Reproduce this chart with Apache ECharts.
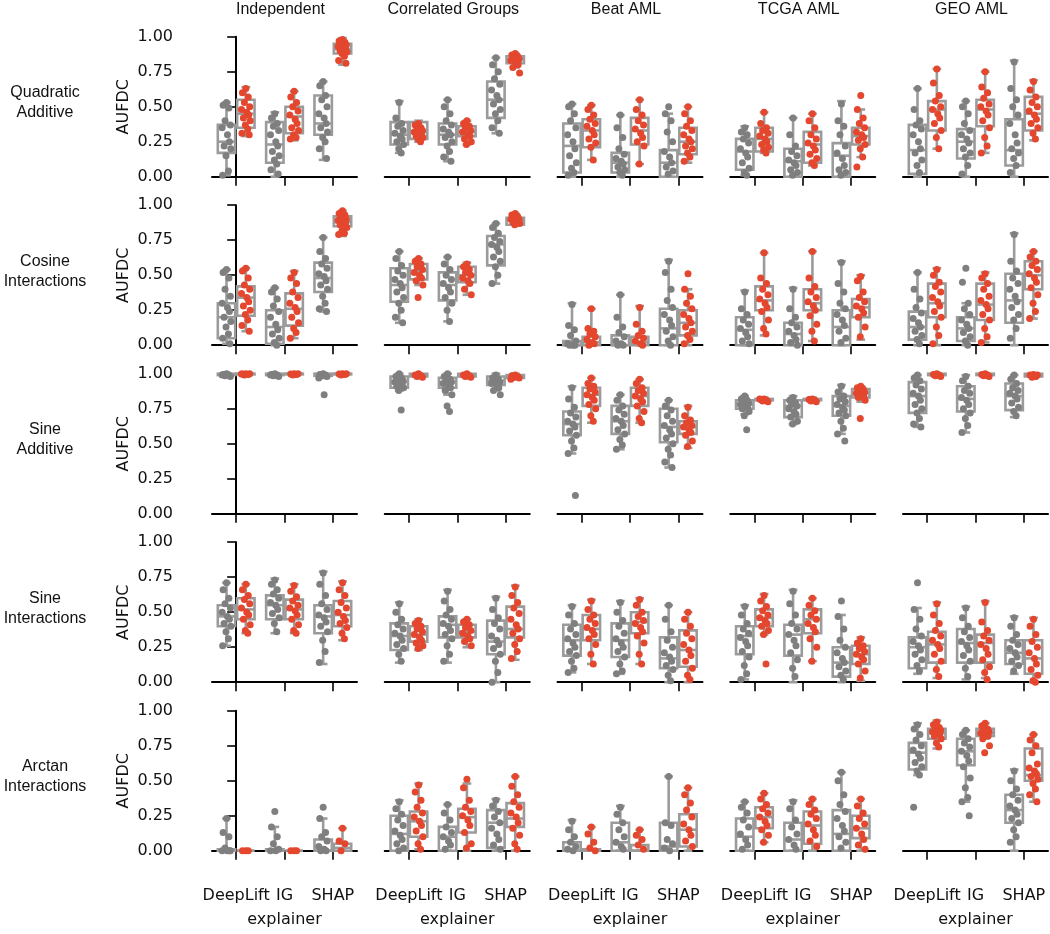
<!DOCTYPE html>
<html><head><meta charset="utf-8">
<script src="https://cdn.jsdelivr.net/npm/echarts@6/dist/echarts.min.js"></script>
<style>html,body{margin:0;padding:0;background:#fff}#chart{width:1050px;height:934px}</style>
</head><body><div id="chart"></div>
<script>
const columns = ['Independent', 'Correlated Groups', 'Beat AML', 'TCGA AML', 'GEO AML'];
const rowLabels = ['Quadratic\nAdditive', 'Cosine\nInteractions', 'Sine\nAdditive', 'Sine\nInteractions', 'Arctan\nInteractions'];
const explainers = ['DeepLift', 'IG', 'SHAP'];
const yMin = 0, yMax = 1, yStep = 0.25;

// Box stats per column; groups: DeepLift grey, DeepLift red, IG grey, IG red, SHAP grey, SHAP red
// each: [low whisker, Q1, median, Q3, high whisker]
const quadraticBoxes = [
  [[0.01,0.17,0.25,0.37,0.53],[0.29,0.35,0.45,0.55,0.64],[0.0,0.10,0.23,0.39,0.46],[0.26,0.31,0.43,0.50,0.61],[0.12,0.30,0.38,0.58,0.68],[0.80,0.88,0.91,0.95,0.99]],
  [[0.17,0.23,0.30,0.39,0.54],[0.25,0.27,0.32,0.39,0.40],[0.11,0.23,0.30,0.38,0.55],[0.23,0.29,0.32,0.36,0.40],[0.31,0.42,0.55,0.68,0.85],[0.78,0.81,0.84,0.86,0.88]],
  [[0.0,0.03,0.22,0.38,0.52],[0.12,0.21,0.33,0.41,0.51],[0.0,0.03,0.10,0.17,0.44],[0.09,0.23,0.33,0.42,0.55],[0.0,0.0,0.10,0.19,0.45],[0.10,0.16,0.25,0.35,0.50]],
  [[0.01,0.05,0.18,0.27,0.36],[0.17,0.18,0.27,0.35,0.46],[0.0,0.0,0.11,0.20,0.42],[0.08,0.10,0.23,0.32,0.45],[0.0,0.0,0.15,0.24,0.54],[0.14,0.23,0.29,0.35,0.48]],
  [[0.0,0.02,0.19,0.37,0.63],[0.20,0.33,0.48,0.54,0.77],[0.0,0.13,0.25,0.34,0.54],[0.17,0.36,0.48,0.55,0.75],[0.0,0.08,0.19,0.41,0.83],[0.26,0.33,0.45,0.57,0.69]]
];
const quadraticPoints = [
  [[0.53,0.51,0.49,0.40,0.37,0.35,0.30,0.25,0.22,0.20,0.15,0.04,0.01],[0.63,0.60,0.57,0.53,0.50,0.48,0.46,0.44,0.42,0.40,0.37,0.34,0.31,0.30],[0.45,0.42,0.38,0.36,0.33,0.30,0.25,0.22,0.18,0.15,0.12,0.09,0.05,0.02],[0.61,0.57,0.53,0.50,0.47,0.44,0.41,0.38,0.35,0.33,0.30,0.28,0.27],[0.68,0.65,0.58,0.55,0.50,0.45,0.42,0.38,0.35,0.32,0.28,0.25,0.20,0.13],[0.98,0.97,0.96,0.95,0.94,0.93,0.92,0.91,0.90,0.89,0.88,0.86,0.83,0.81]],
  [[0.53,0.42,0.38,0.36,0.33,0.31,0.29,0.27,0.25,0.23,0.20,0.17],[0.38,0.37,0.35,0.34,0.33,0.32,0.31,0.30,0.29,0.28,0.27,0.25],[0.55,0.50,0.45,0.40,0.37,0.34,0.32,0.30,0.28,0.25,0.22,0.18,0.14,0.11],[0.40,0.38,0.36,0.35,0.33,0.32,0.30,0.29,0.27,0.25,0.23],[0.85,0.80,0.75,0.70,0.66,0.62,0.58,0.55,0.52,0.48,0.45,0.40,0.35,0.31],[0.88,0.87,0.86,0.85,0.84,0.83,0.82,0.80,0.78,0.74]],
  [[0.52,0.50,0.45,0.40,0.35,0.30,0.25,0.20,0.15,0.10,0.06,0.03,0.01],[0.51,0.48,0.44,0.41,0.38,0.36,0.33,0.30,0.27,0.24,0.21,0.12],[0.44,0.35,0.28,0.20,0.16,0.13,0.11,0.09,0.07,0.05,0.03,0.01],[0.55,0.48,0.44,0.40,0.37,0.34,0.31,0.28,0.25,0.22,0.09],[0.50,0.45,0.40,0.32,0.25,0.18,0.14,0.10,0.07,0.04,0.02],[0.50,0.45,0.40,0.36,0.33,0.30,0.27,0.25,0.22,0.20,0.17,0.14,0.11]],
  [[0.35,0.32,0.30,0.27,0.24,0.20,0.17,0.14,0.10,0.06,0.03,0.01],[0.46,0.38,0.35,0.33,0.31,0.29,0.27,0.25,0.23,0.21,0.19,0.17],[0.42,0.30,0.22,0.18,0.15,0.12,0.10,0.08,0.05,0.03,0.01],[0.45,0.40,0.35,0.30,0.27,0.24,0.22,0.19,0.16,0.13,0.10,0.08],[0.52,0.40,0.36,0.30,0.22,0.17,0.13,0.08,0.05,0.03,0.01],[0.58,0.48,0.42,0.38,0.35,0.32,0.30,0.28,0.26,0.23,0.20,0.14,0.07]],
  [[0.63,0.48,0.40,0.37,0.34,0.30,0.25,0.20,0.17,0.12,0.08,0.03],[0.77,0.67,0.58,0.54,0.50,0.48,0.45,0.42,0.38,0.33,0.28,0.20],[0.54,0.50,0.45,0.38,0.33,0.30,0.27,0.24,0.20,0.17,0.14,0.08,0.02],[0.75,0.64,0.60,0.56,0.52,0.50,0.47,0.44,0.40,0.35,0.28,0.22,0.17],[0.82,0.63,0.55,0.50,0.44,0.38,0.30,0.24,0.20,0.17,0.13,0.08,0.03],[0.68,0.62,0.57,0.53,0.50,0.47,0.44,0.41,0.38,0.35,0.31,0.27]]
];

const cosineBoxes = [
  [[0.01,0.05,0.20,0.30,0.54],[0.10,0.21,0.34,0.42,0.55],[0.0,0.01,0.13,0.25,0.41],[0.05,0.14,0.26,0.37,0.53],[0.24,0.38,0.48,0.59,0.77],[0.78,0.85,0.88,0.92,0.96]],
  [[0.16,0.31,0.43,0.55,0.67],[0.43,0.47,0.53,0.58,0.62],[0.17,0.32,0.43,0.52,0.63],[0.36,0.45,0.50,0.56,0.59],[0.44,0.57,0.72,0.78,0.87],[0.86,0.86,0.89,0.91,0.94]],
  [[0.0,0.0,0.0,0.03,0.30],[0.0,0.0,0.02,0.06,0.26],[0.0,0.0,0.0,0.07,0.36],[0.0,0.0,0.02,0.06,0.28],[0.0,0.0,0.12,0.26,0.61],[0.0,0.07,0.16,0.25,0.40]],
  [[0.0,0.0,0.11,0.20,0.39],[0.07,0.25,0.32,0.42,0.66],[0.0,0.0,0.08,0.16,0.41],[0.03,0.25,0.30,0.40,0.67],[0.0,0.0,0.13,0.25,0.60],[0.04,0.20,0.27,0.33,0.50]],
  [[0.0,0.04,0.13,0.24,0.52],[0.0,0.20,0.30,0.44,0.55],[0.0,0.03,0.12,0.20,0.30],[0.02,0.18,0.29,0.44,0.52],[0.0,0.16,0.32,0.51,0.80],[0.19,0.40,0.50,0.60,0.67]]
];
const cosinePoints = [
  [[0.54,0.52,0.48,0.40,0.35,0.30,0.27,0.24,0.20,0.17,0.13,0.08,0.05,0.01],[0.55,0.53,0.48,0.43,0.40,0.37,0.34,0.31,0.28,0.25,0.22,0.18,0.14,0.10],[0.41,0.38,0.33,0.28,0.24,0.20,0.15,0.11,0.08,0.05,0.02,0.0],[0.52,0.48,0.44,0.38,0.34,0.30,0.27,0.24,0.20,0.16,0.12,0.09,0.05],[0.77,0.67,0.62,0.58,0.55,0.51,0.49,0.46,0.43,0.40,0.35,0.30,0.26,0.24],[0.96,0.94,0.93,0.91,0.90,0.89,0.88,0.87,0.86,0.84,0.82,0.80,0.79]],
  [[0.67,0.62,0.57,0.53,0.50,0.47,0.44,0.41,0.38,0.34,0.30,0.25,0.20,0.16],[0.62,0.60,0.58,0.56,0.54,0.52,0.50,0.48,0.46,0.43,0.34],[0.63,0.58,0.54,0.50,0.47,0.44,0.41,0.38,0.34,0.30,0.25,0.17],[0.58,0.56,0.54,0.52,0.50,0.48,0.46,0.44,0.40,0.36],[0.87,0.84,0.80,0.77,0.74,0.72,0.70,0.67,0.63,0.60,0.56,0.50,0.44],[0.94,0.93,0.92,0.91,0.90,0.90,0.89,0.89,0.88,0.87,0.86]],
  [[0.29,0.14,0.11,0.07,0.03,0.01,0.0,0.0,0.0],[0.26,0.12,0.10,0.08,0.06,0.04,0.02,0.01,0.0],[0.36,0.20,0.13,0.09,0.06,0.03,0.01,0.0,0.0],[0.27,0.15,0.10,0.07,0.05,0.03,0.01,0.0],[0.60,0.52,0.40,0.32,0.27,0.22,0.18,0.14,0.10,0.06,0.03,0.0],[0.51,0.40,0.35,0.30,0.26,0.22,0.19,0.16,0.13,0.10,0.07,0.04,0.01]],
  [[0.38,0.26,0.22,0.18,0.15,0.12,0.09,0.06,0.03,0.01],[0.66,0.48,0.44,0.40,0.36,0.33,0.30,0.27,0.24,0.18,0.12,0.08],[0.40,0.26,0.20,0.16,0.13,0.10,0.07,0.04,0.02,0.0],[0.67,0.48,0.42,0.38,0.34,0.31,0.28,0.25,0.21,0.15,0.10,0.03],[0.59,0.44,0.38,0.30,0.26,0.22,0.18,0.14,0.10,0.05,0.02],[0.49,0.46,0.38,0.34,0.31,0.28,0.26,0.23,0.20,0.13,0.06]],
  [[0.52,0.40,0.33,0.27,0.23,0.19,0.16,0.13,0.10,0.07,0.04,0.01],[0.54,0.50,0.45,0.42,0.38,0.34,0.31,0.28,0.24,0.20,0.13,0.07,0.01],[0.55,0.45,0.30,0.26,0.22,0.18,0.15,0.12,0.09,0.06,0.03,0.0],[0.51,0.48,0.44,0.40,0.35,0.32,0.29,0.26,0.22,0.18,0.12,0.06,0.02],[0.79,0.60,0.53,0.48,0.44,0.40,0.35,0.31,0.27,0.22,0.18,0.12,0.05],[0.67,0.63,0.60,0.57,0.54,0.51,0.48,0.45,0.41,0.36,0.30,0.24,0.19]]
];

const sineAddBoxes = [
  [[0.98,0.99,0.995,1,1],[0.99,0.995,1,1,1],[0.98,0.99,0.995,1,1],[0.99,0.995,1,1,1],[0.97,0.985,0.99,1,1],[0.99,0.995,1,1,1]],
  [[0.88,0.90,0.94,0.98,1.0],[0.97,0.98,0.99,1,1],[0.85,0.90,0.94,0.97,1.0],[0.97,0.98,0.99,1,1],[0.88,0.92,0.95,0.98,1.0],[0.96,0.97,0.98,0.99,1.0]],
  [[0.43,0.56,0.64,0.73,0.91],[0.65,0.77,0.85,0.90,0.97],[0.46,0.57,0.66,0.77,0.85],[0.65,0.77,0.84,0.90,0.96],[0.33,0.51,0.62,0.75,0.81],[0.47,0.57,0.62,0.66,0.77]],
  [[0.71,0.75,0.78,0.81,0.84],[0.80,0.81,0.815,0.82,0.83],[0.64,0.69,0.77,0.81,0.84],[0.80,0.81,0.815,0.82,0.83],[0.57,0.70,0.77,0.84,0.92],[0.80,0.83,0.86,0.89,0.91]],
  [[0.62,0.72,0.84,0.94,0.99],[0.98,0.99,0.995,1,1],[0.58,0.73,0.82,0.91,0.99],[0.98,0.99,0.995,1,1],[0.69,0.74,0.84,0.93,0.99],[0.97,0.98,0.99,1,1]]
];
const sineAddPoints = [
  [[1.0,0.995,0.99,0.985,0.98,0.99,0.995],[1.0,0.998,0.995,0.99,1.0,0.997],[1.0,0.995,0.99,0.985,0.98,0.99],[1.0,0.998,0.995,0.99,1.0],[1.0,0.995,0.99,0.985,0.98,0.97,0.85],[1.0,0.998,0.995,0.99,1.0]],
  [[1.0,0.98,0.97,0.96,0.95,0.94,0.93,0.92,0.91,0.90,0.88,0.74],[1.0,0.99,0.985,0.98,0.975],[1.0,0.98,0.96,0.95,0.94,0.93,0.92,0.90,0.88,0.85,0.77,0.73],[1.0,0.99,0.985,0.98,0.975],[0.99,0.97,0.96,0.95,0.94,0.93,0.92,0.90,0.88,0.85],[0.99,0.985,0.98,0.975,0.97,0.96]],
  [[0.90,0.82,0.76,0.72,0.69,0.66,0.64,0.62,0.59,0.56,0.52,0.47,0.43,0.13],[0.97,0.93,0.91,0.89,0.87,0.85,0.83,0.81,0.78,0.75,0.70,0.66],[0.85,0.81,0.77,0.74,0.71,0.68,0.66,0.63,0.60,0.57,0.53,0.49,0.46],[0.96,0.93,0.90,0.88,0.86,0.84,0.82,0.80,0.77,0.73,0.68,0.65],[0.81,0.77,0.74,0.70,0.66,0.63,0.60,0.57,0.54,0.50,0.46,0.42,0.37,0.33],[0.76,0.70,0.67,0.65,0.63,0.62,0.60,0.58,0.56,0.52,0.48]],
  [[0.84,0.82,0.81,0.80,0.79,0.78,0.77,0.76,0.75,0.73,0.70,0.60],[0.82,0.815,0.81,0.805,0.80,0.82],[0.83,0.81,0.79,0.78,0.77,0.75,0.73,0.71,0.69,0.66,0.64],[0.82,0.815,0.81,0.805,0.80],[0.91,0.87,0.84,0.82,0.80,0.78,0.76,0.74,0.72,0.70,0.66,0.61,0.57,0.52],[0.91,0.90,0.89,0.88,0.87,0.86,0.85,0.84,0.83,0.81,0.68]],
  [[0.99,0.97,0.95,0.92,0.89,0.86,0.84,0.81,0.78,0.75,0.72,0.68,0.64,0.62],[1.0,0.995,0.99,0.985,0.98],[0.98,0.95,0.91,0.88,0.86,0.83,0.81,0.78,0.75,0.72,0.68,0.63,0.58],[1.0,0.995,0.99,0.985,0.98],[0.99,0.96,0.93,0.90,0.88,0.86,0.84,0.82,0.79,0.76,0.73,0.70],[0.995,0.99,0.98,0.975,0.99]]
];

const sineIntBoxes = [
  [[0.26,0.40,0.47,0.55,0.71],[0.35,0.45,0.52,0.60,0.70],[0.35,0.45,0.55,0.62,0.74],[0.35,0.45,0.52,0.59,0.70],[0.13,0.35,0.47,0.55,0.79],[0.30,0.40,0.48,0.58,0.72]],
  [[0.14,0.23,0.33,0.42,0.57],[0.23,0.29,0.34,0.40,0.45],[0.14,0.32,0.41,0.47,0.66],[0.25,0.32,0.36,0.41,0.45],[0.0,0.20,0.29,0.44,0.61],[0.16,0.32,0.38,0.54,0.69]],
  [[0.07,0.19,0.30,0.41,0.55],[0.13,0.30,0.38,0.48,0.59],[0.06,0.18,0.30,0.42,0.58],[0.13,0.35,0.43,0.50,0.60],[0.0,0.10,0.17,0.32,0.55],[0.0,0.11,0.23,0.37,0.50]],
  [[0.02,0.20,0.33,0.40,0.55],[0.34,0.40,0.46,0.52,0.63],[0.0,0.19,0.34,0.41,0.66],[0.15,0.35,0.45,0.52,0.60],[0.0,0.04,0.14,0.25,0.48],[0.01,0.13,0.20,0.26,0.32]],
  [[0.06,0.10,0.25,0.32,0.53],[0.03,0.14,0.27,0.36,0.57],[0.02,0.14,0.28,0.38,0.54],[0.03,0.14,0.28,0.34,0.58],[0.06,0.13,0.21,0.30,0.47],[0.0,0.06,0.17,0.30,0.46]]
];
const sineIntPoints = [
  [[0.71,0.66,0.60,0.56,0.53,0.50,0.47,0.45,0.42,0.40,0.36,0.31,0.26],[0.70,0.66,0.62,0.59,0.56,0.53,0.50,0.48,0.45,0.41,0.37,0.35],[0.73,0.70,0.66,0.63,0.60,0.57,0.55,0.52,0.49,0.46,0.42,0.36],[0.69,0.65,0.61,0.58,0.55,0.53,0.51,0.48,0.45,0.41,0.37,0.35],[0.78,0.70,0.62,0.56,0.52,0.48,0.46,0.43,0.40,0.36,0.30,0.22,0.14],[0.71,0.66,0.62,0.57,0.53,0.50,0.47,0.44,0.42,0.39,0.35,0.31]],
  [[0.56,0.50,0.45,0.41,0.38,0.35,0.33,0.30,0.27,0.24,0.20,0.15],[0.44,0.42,0.40,0.38,0.36,0.34,0.32,0.30,0.28,0.26,0.24],[0.65,0.58,0.52,0.48,0.45,0.42,0.40,0.37,0.34,0.31,0.26,0.20,0.15],[0.45,0.43,0.41,0.39,0.37,0.35,0.33,0.31,0.29,0.26],[0.60,0.52,0.46,0.42,0.38,0.33,0.30,0.27,0.24,0.20,0.15,0.07,0.0],[0.68,0.62,0.57,0.53,0.49,0.45,0.41,0.38,0.35,0.31,0.27,0.22,0.17]],
  [[0.54,0.48,0.42,0.38,0.34,0.31,0.28,0.25,0.22,0.19,0.15,0.10,0.07],[0.58,0.52,0.48,0.45,0.42,0.39,0.37,0.34,0.31,0.27,0.20,0.13],[0.57,0.50,0.44,0.40,0.35,0.31,0.28,0.25,0.22,0.18,0.13,0.08,0.06],[0.59,0.55,0.50,0.47,0.44,0.42,0.39,0.36,0.33,0.28,0.20,0.13],[0.55,0.45,0.36,0.30,0.25,0.21,0.18,0.15,0.12,0.09,0.05,0.01],[0.50,0.45,0.40,0.35,0.31,0.27,0.23,0.19,0.15,0.10,0.05,0.02]],
  [[0.54,0.48,0.42,0.38,0.35,0.32,0.29,0.26,0.22,0.18,0.12,0.06,0.02],[0.62,0.58,0.54,0.51,0.48,0.46,0.44,0.42,0.40,0.37,0.34,0.13],[0.65,0.56,0.48,0.42,0.38,0.34,0.30,0.26,0.21,0.16,0.10,0.04],[0.60,0.55,0.51,0.48,0.45,0.42,0.39,0.36,0.31,0.25,0.15],[0.58,0.47,0.38,0.30,0.25,0.21,0.17,0.14,0.11,0.08,0.05,0.02],[0.31,0.28,0.26,0.24,0.22,0.20,0.18,0.16,0.13,0.08,0.03]],
  [[0.71,0.52,0.45,0.38,0.33,0.29,0.26,0.23,0.20,0.16,0.12,0.08],[0.56,0.48,0.42,0.37,0.33,0.30,0.27,0.24,0.20,0.15,0.09,0.04],[0.53,0.46,0.40,0.36,0.32,0.29,0.26,0.23,0.19,0.15,0.10,0.04],[0.57,0.43,0.37,0.33,0.30,0.27,0.24,0.20,0.16,0.11,0.07,0.02],[0.46,0.40,0.34,0.30,0.27,0.24,0.21,0.18,0.15,0.12,0.08],[0.45,0.40,0.34,0.29,0.25,0.21,0.17,0.13,0.09,0.05,0.01,0.0]]
];

const arctanBoxes = [
  [[0.0,0.0,0.0,0.01,0.23],[0,0,0,0,0],[0.0,0.0,0.01,0.01,0.17],[0,0,0,0,0],[0.0,0.0,0.0,0.08,0.23],[0.0,0.0,0.02,0.05,0.16]],
  [[0.0,0.0,0.12,0.25,0.36],[0.01,0.10,0.21,0.28,0.48],[0.0,0.0,0.10,0.17,0.33],[0.0,0.13,0.24,0.30,0.48],[0.0,0.02,0.20,0.29,0.37],[0.0,0.17,0.23,0.34,0.53]],
  [[0.0,0.0,0.0,0.06,0.22],[0.0,0.0,0.0,0.01,0.17],[0.0,0.0,0.06,0.20,0.32],[0.0,0.0,0.0,0.04,0.15],[0.0,0.0,0.03,0.20,0.53],[0.0,0.03,0.15,0.26,0.45]],
  [[0.0,0.0,0.10,0.23,0.35],[0.06,0.16,0.24,0.31,0.41],[0.0,0.0,0.08,0.20,0.36],[0.0,0.05,0.18,0.28,0.37],[0.0,0.0,0.12,0.29,0.56],[0.0,0.09,0.16,0.25,0.37]],
  [[0.54,0.58,0.70,0.77,0.91],[0.73,0.80,0.84,0.87,0.93],[0.35,0.61,0.71,0.80,0.86],[0.80,0.82,0.84,0.87,0.91],[0.0,0.20,0.29,0.40,0.58],[0.35,0.50,0.54,0.73,0.83]]
];
const arctanPoints = [
  [[0.23,0.13,0.10,0.02,0.0,0.0,0.0,0.0],[0.0,0.0,0.0],[0.28,0.17,0.10,0.05,0.01,0.0,0.0],[0.0,0.0,0.0],[0.31,0.23,0.13,0.10,0.07,0.03,0.01,0.0,0.0],[0.16,0.07,0.05,0.0]],
  [[0.35,0.30,0.26,0.22,0.18,0.14,0.11,0.08,0.05,0.02,0.0],[0.47,0.42,0.36,0.31,0.27,0.24,0.21,0.18,0.14,0.10,0.05,0.01],[0.33,0.27,0.22,0.17,0.13,0.10,0.07,0.04,0.01],[0.51,0.45,0.36,0.31,0.28,0.25,0.22,0.18,0.13,0.05,0.02],[0.36,0.32,0.28,0.24,0.20,0.16,0.12,0.08,0.04,0.01],[0.53,0.46,0.40,0.35,0.31,0.27,0.24,0.20,0.16,0.11,0.05,0.01]],
  [[0.21,0.15,0.10,0.06,0.03,0.01,0.0],[0.17,0.12,0.06,0.02,0.0],[0.31,0.26,0.20,0.15,0.10,0.06,0.03,0.01],[0.15,0.11,0.08,0.04,0.01],[0.53,0.20,0.18,0.08,0.05,0.02,0.0],[0.45,0.40,0.34,0.29,0.24,0.19,0.15,0.11,0.07,0.03]],
  [[0.35,0.31,0.27,0.22,0.17,0.12,0.08,0.04,0.01],[0.41,0.37,0.33,0.30,0.27,0.24,0.21,0.18,0.15,0.11,0.06],[0.35,0.30,0.22,0.17,0.12,0.08,0.04,0.01],[0.37,0.33,0.29,0.26,0.23,0.19,0.15,0.11,0.07,0.03],[0.56,0.50,0.40,0.33,0.28,0.23,0.18,0.14,0.10,0.06,0.02],[0.37,0.32,0.27,0.23,0.19,0.16,0.12,0.08,0.04,0.01]],
  [[0.90,0.87,0.83,0.79,0.75,0.72,0.69,0.66,0.63,0.60,0.57,0.54,0.31],[0.92,0.90,0.88,0.87,0.86,0.85,0.84,0.83,0.82,0.80,0.77,0.74],[0.86,0.83,0.80,0.77,0.74,0.71,0.68,0.64,0.60,0.52,0.45,0.38,0.35,0.25],[0.91,0.89,0.87,0.86,0.85,0.84,0.83,0.82,0.80,0.75,0.70],[0.57,0.50,0.44,0.40,0.36,0.32,0.29,0.26,0.23,0.20,0.15,0.10,0.06],[0.83,0.79,0.75,0.70,0.62,0.59,0.57,0.55,0.53,0.51,0.48,0.44,0.40,0.35]]
];

const rowBoxes = [quadraticBoxes, cosineBoxes, sineAddBoxes, sineIntBoxes, arctanBoxes];
const rowPoints = [quadraticPoints, cosinePoints, sineAddPoints, sineIntPoints, arctanPoints];

// ---- styling / layout (not data) ----
const GREY_PT = '#7f7f7f', RED_PT = '#e4462e', BOX = '#9b9b9b';
const jitter = [0.00,-0.07,0.05,-0.03,0.08,-0.09,0.02,0.06,-0.05,0.09,-0.01,0.04,-0.08,0.07,-0.04];
const GX0 = 212, GDX = 172.75, GW = 145, GY0 = 36.7, GDY = 168.5, GH = 140;
const TICK_FONT = 'DejaVu Sans', TITLE_FONT = 'Liberation Sans';

const grids = [], xAxes = [], yAxes = [], series = [], graphics = [];

function renderBox(params, api) {
  const x = api.value(0);
  const lo = api.coord([x, api.value(1)])[1];
  const q1 = api.coord([x, api.value(2)])[1];
  const md = api.coord([x, api.value(3)])[1];
  const q3 = api.coord([x, api.value(4)])[1];
  const hi = api.coord([x, api.value(5)])[1];
  const cx = api.coord([x, 0])[0];
  const w = api.size([0.36, 0])[0];
  const hw = w / 2, cw = w / 4;
  const st = { stroke: BOX, lineWidth: 2.6, fill: null };
  const line = (x1, y1, x2, y2) => ({ type: 'line', shape: { x1, y1, x2, y2 }, style: st });
  return {
    type: 'group',
    children: [
      line(cx, q1, cx, lo), line(cx, q3, cx, hi),
      line(cx - cw, lo, cx + cw, lo), line(cx - cw, hi, cx + cw, hi),
      { type: 'rect', shape: { x: cx - hw, y: q3, width: w, height: q1 - q3 }, style: { stroke: BOX, lineWidth: 2.6, fill: 'rgba(0,0,0,0)' } },
      line(cx - hw, md, cx + hw, md)
    ]
  };
}

for (let r = 0; r < 5; r++) {
  for (let c = 0; c < 5; c++) {
    const idx = r * 5 + c;
    grids.push({ left: GX0 + c * GDX, top: GY0 + r * GDY, width: GW, height: GH });
    const last = r === 4;
    xAxes.push({
      type: 'category', gridIndex: idx, data: explainers, boundaryGap: true, position: 'bottom', offset: 23,
      axisLine: { show: true, lineStyle: { color: '#000', width: 2 } },
      axisTick: { show: true, alignWithLabel: true, length: 9, lineStyle: { color: '#000', width: 1.6 } },
      axisLabel: { show: last, interval: 0, color: '#111', fontFamily: TICK_FONT, fontSize: 16, margin: 14 },
      name: last ? 'explainer' : '', nameLocation: 'middle', nameGap: 38,
      nameTextStyle: { color: '#111', fontFamily: TICK_FONT, fontSize: 16 },
      splitLine: { show: false }
    });
    xAxes.push({ type: 'value', gridIndex: idx, min: -0.5, max: 2.5, show: false, splitLine: { show: false } });
    const first = c === 0;
    yAxes.push({
      type: 'value', gridIndex: idx, min: yMin, max: yMax, interval: yStep, show: first, offset: 22,
      axisLine: { show: true, lineStyle: { color: '#000', width: 2 } },
      axisTick: { show: true, length: 9, lineStyle: { color: '#000', width: 1.6 } },
      axisLabel: { color: '#111', fontFamily: TICK_FONT, fontSize: 16, margin: 17, formatter: v => v.toFixed(2) },
      splitLine: { show: false },
      name: first ? 'AUFDC' : '', nameLocation: 'middle', nameGap: 58,
      nameTextStyle: { color: '#111', fontFamily: TICK_FONT, fontSize: 16 }
    });
    const boxes = rowBoxes[r][c];
    const pts = rowPoints[r][c];
    const boxData = [];
    for (let g = 0; g < 6; g++) {
      const e = Math.floor(g / 2), hue = g % 2;
      const xc = e + (hue ? 0.2 : -0.2);
      boxData.push([xc].concat(boxes[g]));
    }
    series.push({
      type: 'custom', xAxisIndex: 2 * idx + 1, yAxisIndex: idx, renderItem: renderBox,
      data: boxData, encode: { x: 0, y: [1, 2, 3, 4, 5] }, clip: false, z: 2, silent: true
    });
    for (let hue = 0; hue < 2; hue++) {
      const data = [];
      for (let e = 0; e < 3; e++) {
        const vals = pts[e * 2 + hue];
        const xc = e + (hue ? 0.2 : -0.2);
        vals.forEach((v, i) => data.push([xc + jitter[i % jitter.length], v]));
      }
      series.push({
        type: 'scatter', xAxisIndex: 2 * idx + 1, yAxisIndex: idx, data,
        symbolSize: 7, itemStyle: { color: hue ? RED_PT : GREY_PT, opacity: 1 },
        clip: false, z: 3, silent: true
      });
    }
  }
}

columns.forEach((t, c) => {
  graphics.push({ type: 'text', left: 'center', x: 0, style: {} });
});
graphics.length = 0;
columns.forEach((t, c) => {
  graphics.push({
    type: 'text', x: GX0 + c * GDX + GW / 2 - 4, y: 10,
    style: { text: t, font: '16px "Liberation Sans"', fill: '#111', textAlign: 'center', textVerticalAlign: 'middle' }
  });
});
rowLabels.forEach((t, r) => {
  graphics.push({
    type: 'text', x: 45, y: GY0 + r * GDY + GH / 2 - 4,
    style: { text: t, font: '16px "Liberation Sans"', fill: '#111', textAlign: 'center', textVerticalAlign: 'middle', lineHeight: 20 }
  });
});

const chart = echarts.init(document.getElementById('chart'), null, { renderer: 'canvas' });
chart.setOption({
  animation: false,
  backgroundColor: '#fff',
  grid: grids, xAxis: xAxes, yAxis: yAxes, series, graphic: graphics
});
</script></body></html>
